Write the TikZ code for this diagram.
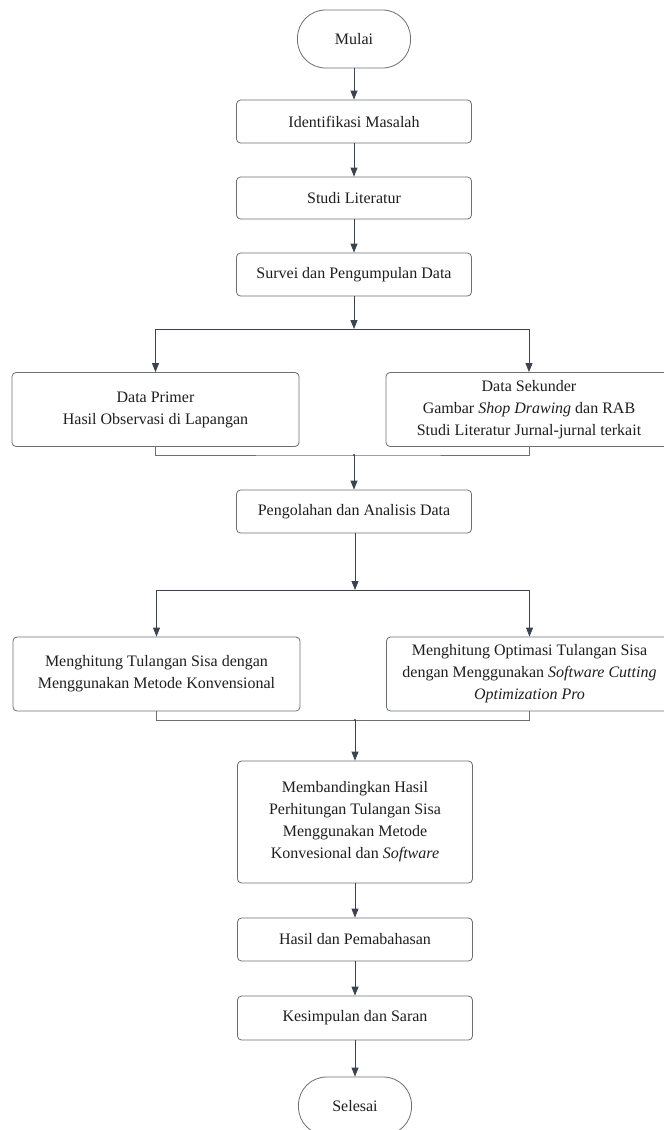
\documentclass[tikz,border=0pt]{standalone}
\usepackage{fontspec}
\setmainfont{Liberation Serif}
\usetikzlibrary{arrows.meta}
\definecolor{boxgray}{HTML}{6B6E73}
\definecolor{arrc}{HTML}{3B4350}
\definecolor{txt}{HTML}{1E1E1E}
\begin{document}
\begin{tikzpicture}[x=1pt,y=-1pt,
  stepbox/.style={draw=boxgray, line width=0.8pt, rounded corners=4pt, align=center,
    text=txt, font=\fontsize{16}{22}\selectfont, inner sep=0pt},
  term/.style={stepbox, rounded corners=28pt, minimum width=113pt, minimum height=58pt},
  arr/.style={draw=arrc, line width=0.8pt, -{Triangle[length=9pt,width=7pt]}},
  ln/.style={draw=boxgray, line width=0.8pt}]
\useasboundingbox (0,0) rectangle (664,1130);
\clip (0,0) rectangle (664,1130);

\node[term] (start) at (354,39) {Mulai};
\node[stepbox, minimum width=235pt, minimum height=43pt] (n1) at (354,121.5) {Identifikasi Masalah};
\node[stepbox, minimum width=235pt, minimum height=42pt] (n2) at (354,198) {Studi Literatur};
\node[stepbox, minimum width=235pt, minimum height=43pt] (n3) at (354,274.5) {Survei dan Pengumpulan Data};

\node[stepbox, minimum width=287pt, minimum height=74pt] (dp) at (155.5,409.5) {Data Primer\\Hasil Observasi di Lapangan};
\node[stepbox, minimum width=286pt, minimum height=74pt] (ds) at (529,409.5) {Data Sekunder\\Gambar \textit{Shop Drawing} dan RAB\\Studi Literatur Jurnal-jurnal terkait};

\node[stepbox, minimum width=235pt, minimum height=43pt] (n4) at (354,511.5) {Pengolahan dan Analisis Data};

\node[stepbox, minimum width=287pt, minimum height=74pt] (ml) at (156.5,674) {Menghitung Tulangan Sisa dengan\\Menggunakan Metode Konvensional};
\node[stepbox, minimum width=286pt, minimum height=74pt] (mr) at (529.5,674) {Menghitung Optimasi Tulangan Sisa\\dengan Menggunakan \textit{Software Cutting}\\\textit{Optimization Pro}};

\node[stepbox, minimum width=235pt, minimum height=122pt] (n5) at (355,822) {Membandingkan Hasil\\Perhitungan Tulangan Sisa\\Menggunakan Metode\\Konvesional dan \textit{Software}};
\node[stepbox, minimum width=235pt, minimum height=43pt] (n6) at (355,939.5) {Hasil dan Pemabahasan};
\node[stepbox, minimum width=235pt, minimum height=44pt] (n7) at (355,1018) {Kesimpulan dan Saran};
\node[term] (end) at (355,1106) {Selesai};

\coordinate (s1) at (354,329);
\coordinate (m1) at (354,455);
\coordinate (s2) at (355,590);
\coordinate (m2) at (355,720);

\draw[arr] (start) -- (n1);
\draw[arr] (n1) -- (n2);
\draw[arr] (n2) -- (n3);
\draw[arr] (n3.south) -- (s1);
\draw[arr] (s1) -| (dp.north);
\draw[arr] (s1) -| (ds.north);
\draw[ln] (dp.south) |- (m1) -| (ds.south);
\fill[arrc] (m1) circle (1.2pt);
\draw[arr] (m1) -- (n4.north);
\draw[arr] (n4.south -| s2) -- (s2);
\draw[arr] (s2) -| (ml.north);
\draw[arr] (s2) -| (mr.north);
\draw[ln] (ml.south) |- (m2) -| (mr.south);
\fill[arrc] (m2) circle (1.2pt);
\draw[arr] (m2) -- (n5.north);
\draw[arr] (n5) -- (n6);
\draw[arr] (n6) -- (n7);
\draw[arr] (n7) -- (end);
\end{tikzpicture}
\end{document}
